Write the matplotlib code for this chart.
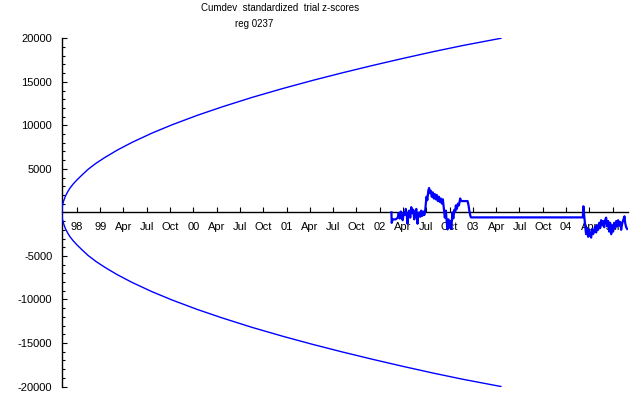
import matplotlib
matplotlib.use("Agg")
import matplotlib.pyplot as plt
from matplotlib.ticker import FixedLocator, MultipleLocator, FuncFormatter

plt.rcParams['font.family'] = ['Liberation Sans', 'DejaVu Sans']

# significance envelope (decimal year, cumdev)
env_years = [1998.591, 1998.594, 1998.602, 1998.613, 1998.629, 1998.651, 1998.677,
             1998.710, 1998.753, 1998.806, 1998.871, 1998.957, 1999.054, 1999.183,
             1999.344, 1999.559, 1999.774, 2000.043, 2000.312, 2000.634, 2000.957,
             2001.280, 2001.602, 2001.925, 2002.247, 2002.570, 2002.893, 2003.301]
env_values = [0, 700, 1100, 1450, 1900, 2350, 2800, 3250, 3750, 4300, 4950, 5650,
              6330, 7150, 8050, 9120, 10070, 11150, 12130, 13220, 14220, 15160,
              16040, 16880, 17680, 18450, 19170, 20000]

# cumulative deviation of the egg (decimal year, cumdev)
dev_years = [2002.126, 2002.129, 2002.140, 2002.172, 2002.194, 2002.204, 2002.215,
             2002.226, 2002.237, 2002.247, 2002.258, 2002.269, 2002.280, 2002.290,
             2002.298, 2002.306, 2002.317, 2002.328, 2002.339, 2002.350, 2002.360,
             2002.371, 2002.382, 2002.393, 2002.406, 2002.414, 2002.425, 2002.436,
             2002.446, 2002.457, 2002.468, 2002.479, 2002.489, 2002.502, 2002.511,
             2002.522, 2002.530, 2002.538, 2002.548, 2002.559, 2002.570, 2002.581,
             2002.592, 2002.602, 2002.613, 2002.624, 2002.635, 2002.645, 2002.656,
             2002.667, 2002.678, 2002.688, 2002.699, 2002.710, 2002.720, 2002.728,
             2002.737, 2002.747, 2002.758, 2002.769, 2002.780, 2002.790, 2002.801,
             2002.812, 2002.817, 2002.828, 2002.839, 2002.850, 2002.864, 2002.871,
             2002.943, 2002.952, 2002.962, 2002.971, 2002.979,
             2004.180, 2004.186, 2004.194, 2004.205, 2004.215, 2004.226, 2004.237,
             2004.247, 2004.258, 2004.269, 2004.280, 2004.290, 2004.301, 2004.312,
             2004.323, 2004.333, 2004.344, 2004.355, 2004.366, 2004.376, 2004.387,
             2004.398, 2004.409, 2004.419, 2004.430, 2004.441, 2004.452, 2004.462,
             2004.473, 2004.484, 2004.495, 2004.505, 2004.516, 2004.527, 2004.538,
             2004.548, 2004.559, 2004.570, 2004.581, 2004.591, 2004.602, 2004.613,
             2004.627, 2004.634, 2004.645, 2004.656]
dev_values = [0, -1200, -800, -800, -600, -100, -700, 100, -500, -900, 0, -300, 400,
              -200, -1300, -400, 200, -600, 600, -100, 300, -800, 0, 400, -1300, -300,
              0, -500, 200, -400, 100, -300, 300, 1800, 1400, 2500, 2800, 2200, 2500,
              1800, 2300, 1600, 2100, 1500, 2000, 1300, 1800, 1200, 1600, 1000, 1500,
              500, -600, 200, -1200, -1950, -800, -1700, -1000, -1900, 0, -700, 300,
              100, 800, 400, 1000, 800, 1600, 1300, 1300, 900, 200, -300, -575,
              -575, 700, -300, -1500, -2500, -1800, -2800, -2000, -2600, -2900, -1900,
              -2500, -2200, -1600, -2300, -1500, -2000, -1200, -1800, -900, -1500,
              -1000, -1700, -900, -600, -1600, -1000, -2200, -1200, -2500, -1500,
              -2200, -1200, -1800, -1000, -1600, -900, -1500, -1100, -2000, -1300,
              -900, -450, -1200, -1700, -1900]

tick_years = [1998.75 + 0.25 * i for i in range(24)]
tick_labels = ["98", "99", "Apr", "Jul", "Oct", "00", "Apr", "Jul", "Oct",
               "01", "Apr", "Jul", "Oct", "02", "Apr", "Jul", "Oct",
               "03", "Apr", "Jul", "Oct", "04", "Apr", "Jul"]

fig = plt.figure(figsize=(6.4, 3.95), dpi=100)
ax = fig.add_axes([0.0969, 0.0215, 0.8844, 0.8816])

blue = (0, 0, 1)
ax.plot(env_years, env_values, color=blue, lw=1.0, zorder=3)
ax.plot(env_years, [-v for v in env_values], color=blue, lw=1.0, zorder=3)
ax.plot(dev_years, dev_values, color=blue, lw=1.6, zorder=3)

ax.set_xlim(1998.591, 2004.665)
ax.set_ylim(-20000, 20000)

for s in ['top', 'right']:
    ax.spines[s].set_visible(False)
ax.spines['bottom'].set_position(('data', 0))
ax.spines['bottom'].set_linewidth(1.0)
ax.spines['left'].set_linewidth(1.0)

ax.xaxis.set_major_locator(FixedLocator(tick_years))
ax.set_xticklabels(tick_labels)
ax.tick_params(axis='x', direction='in', length=3.5, width=0.8, pad=7,
               labelsize=8)
for lbl in ax.get_xticklabels():
    lbl.set_zorder(1)

ax.yaxis.set_major_locator(MultipleLocator(5000))
ax.yaxis.set_minor_locator(MultipleLocator(1000))
ax.yaxis.set_major_formatter(FuncFormatter(lambda v, p: "" if v == 0 else f"{int(v)}"))
ax.tick_params(axis='y', which='major', direction='in', length=3.6, width=0.8,
               pad=7, labelsize=8)
ax.tick_params(axis='y', which='minor', direction='in', length=2.2, width=0.8)

fig.text(280 / 640, 1 - 8 / 395, "Cumdev  standardized  trial z-scores",
         ha='center', va='center', fontsize=7)
fig.text(254 / 640, 1 - 24 / 395, "reg 0237", ha='center', va='center',
         fontsize=7)

fig.savefig("out.png", dpi=100)
